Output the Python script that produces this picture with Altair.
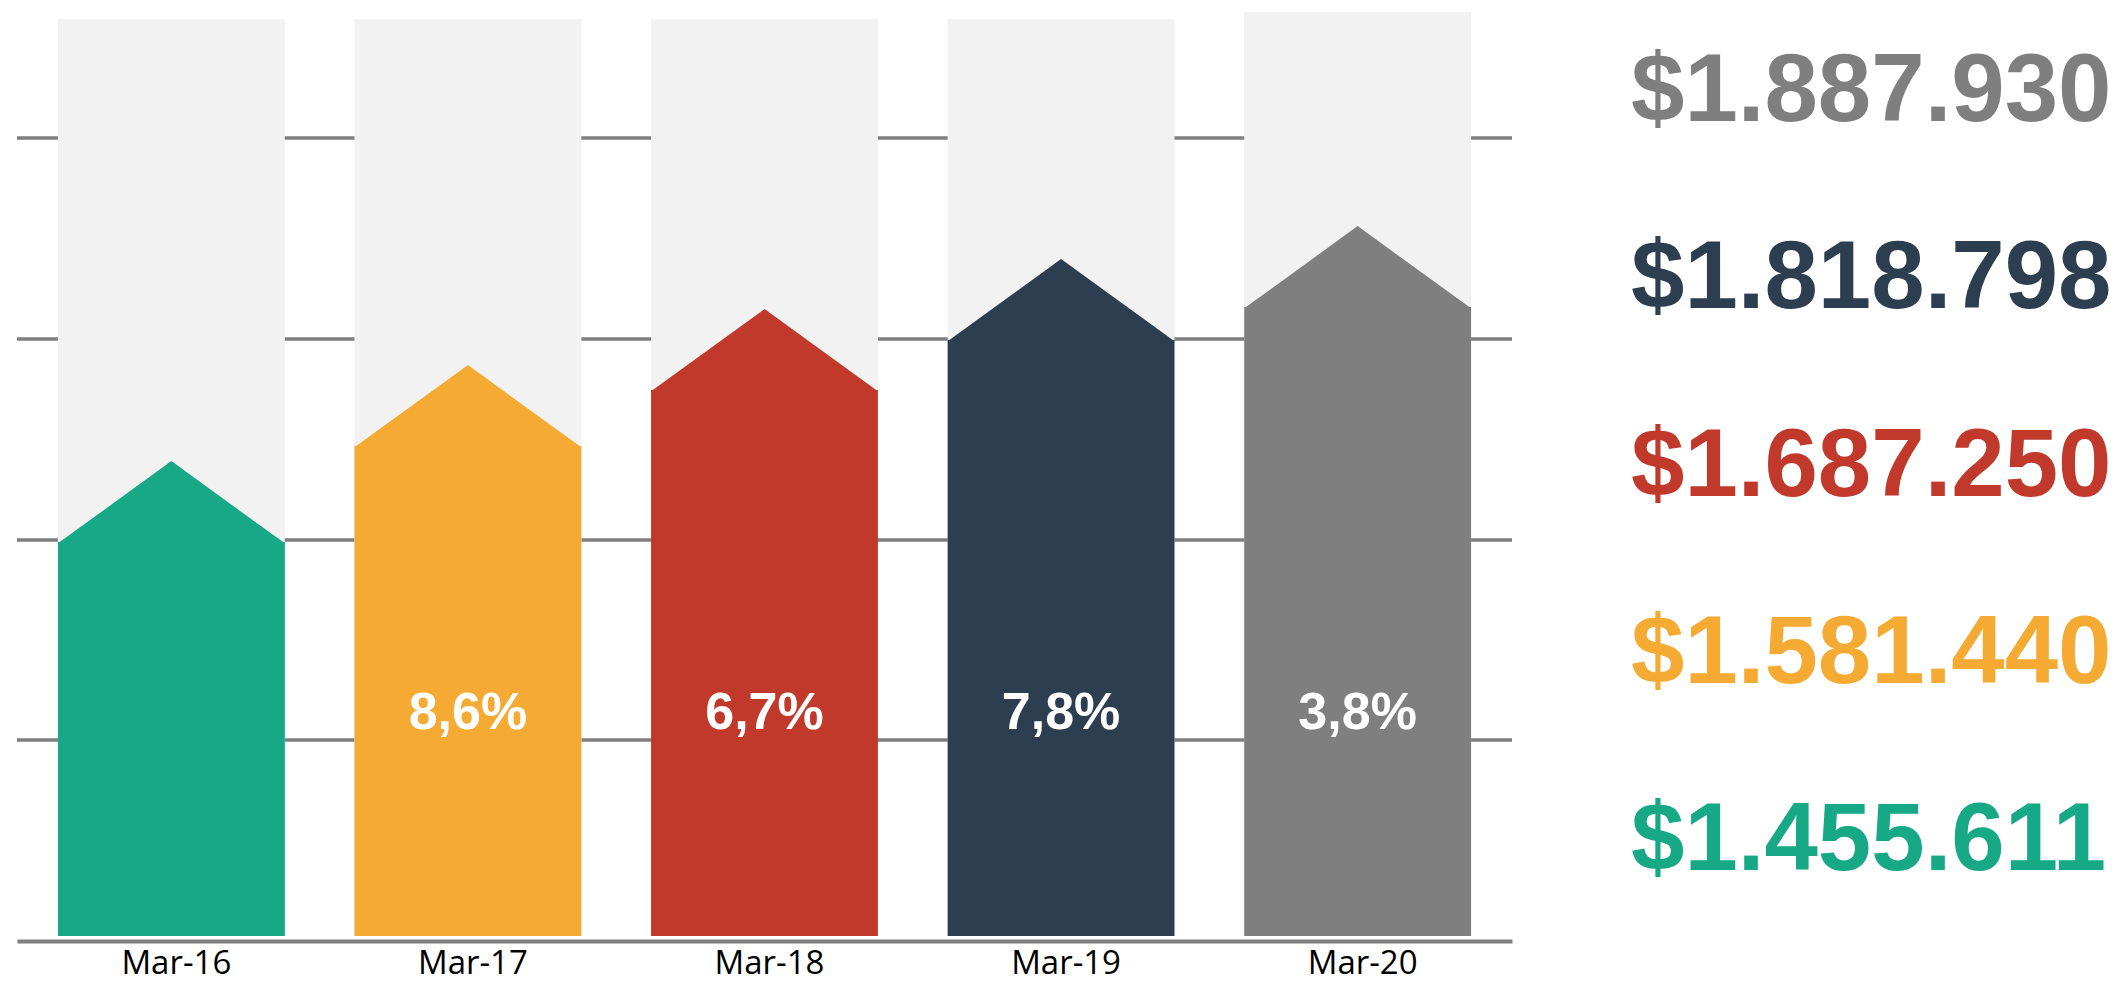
import altair as alt
import pandas as pd

# ---- data ----
years = ["Mar-16", "Mar-17", "Mar-18", "Mar-19", "Mar-20"]
revenue = [1455611, 1581440, 1687250, 1818798, 1887930]
growth_labels = ["", "8,6%", "6,7%", "7,8%", "3,8%"]
bar_heights = [394, 490, 546, 596, 629]          # top of the coloured column (shoulder)
background_heights = [917, 917, 917, 917, 924]   # light grey backdrop columns
grid_values = [196, 396, 597, 798]
colors = ["#17A886", "#F5AB33", "#C0392B", "#2C3E50", "#7F7F7F"]

df = pd.DataFrame({
    "year": years,
    "revenue": revenue,
    "growth": growth_labels,
    "value": bar_heights,
    "bg": background_heights,
})
df["label"] = ["$" + f"{v:,}".replace(",", ".") for v in revenue]
grid_df = pd.DataFrame({"g": grid_values})

W, H = 1495, 933
PAD_IN, PAD_OUT = 0.235, 0.138
Y_SCALE = alt.Scale(domain=[-5, 928], nice=False, zero=False)
color_enc = alt.Color("year:N", scale=alt.Scale(domain=years, range=colors), legend=None)

x_enc = alt.X(
    "year:N",
    sort=years,
    scale=alt.Scale(paddingInner=PAD_IN, paddingOuter=PAD_OUT),
    axis=alt.Axis(
        title=None,
        labelAngle=0,
        labelFont="Open Sans",
        labelFontSize=33,
        labelColor="#000000",
        labelPadding=6,
        labelOffset=5,
        ticks=False,
        tickSize=0,
        grid=False,
        domainColor="#7F7F7F",
        domainWidth=4,
    ),
)

base = alt.Chart(df)

grid = alt.Chart(grid_df).mark_rule(color="#7F7F7F", strokeWidth=3.5).encode(
    y=alt.Y("g:Q", scale=Y_SCALE, axis=None)
)

bg = base.mark_bar(color="#F2F2F2").encode(
    x=x_enc,
    y=alt.Y("bg:Q", scale=Y_SCALE, axis=None),
)

bars = base.mark_bar().encode(
    x=x_enc,
    y=alt.Y("value:Q", scale=Y_SCALE, axis=None),
    color=color_enc,
)

bandwidth = W / (5 - PAD_IN + 2 * PAD_OUT) * (1 - PAD_IN)
heads = base.mark_point(
    shape="M-1,0.012L0,-0.713L1,0.012Z",
    filled=True,
    opacity=1,
    strokeWidth=0,
    size=bandwidth ** 2,
).encode(
    x=x_enc,
    y=alt.Y("value:Q", scale=Y_SCALE, axis=None),
    color=color_enc,
)

pct = base.transform_filter(alt.datum.growth != "").mark_text(
    font="Liberation Sans",
    fontWeight="bold",
    fontSize=52,
    color="#FFFFFF",
    baseline="middle",
    align="center",
).encode(
    x=x_enc,
    y=alt.value(705),
    text="growth:N",
)

right_labels = base.mark_text(
    font="Liberation Sans",
    fontWeight="bold",
    fontSize=96,
    align="left",
    baseline="middle",
    dy=-8,
).encode(
    x=alt.value(1614),
    y=alt.Y("year:N", sort=years[::-1],
            scale=alt.Scale(type="point", padding=0.49), axis=None),
    text="label:N",
    color=color_enc,
)

chart = (
    alt.layer(grid, bg, bars, heads, pct, right_labels)
    .resolve_scale(y="independent")
    .properties(
        width=W,
        height=H,
        autosize=alt.AutoSizeParams(type="none"),
        padding={"left": 9, "top": 0, "right": 601, "bottom": 42},
        background="#FFFFFF",
    )
    .configure_view(stroke=None)
)

chart.save("out.html", embed_options={"renderer": "svg", "actions": False})
